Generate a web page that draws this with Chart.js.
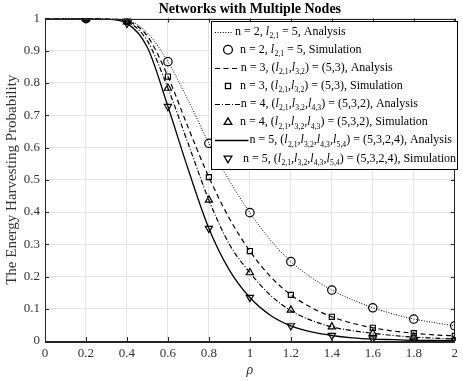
<!DOCTYPE html>
<html>
<head>
<meta charset="utf-8">
<script src="https://cdn.jsdelivr.net/npm/chart.js@4.4.1/dist/chart.umd.min.js"></script>
<style>
html,body{margin:0;padding:0;background:#fff;}
#wrap{width:463px;height:381px;position:relative;}
</style>
</head>
<body>
<div id="wrap"><canvas id="c" width="463" height="381"></canvas></div>
<script>
// ---- data ----
const titleText = "Networks with Multiple Nodes";
const xLabel = "ρ";
const yLabel = "The Energy Harvesting Probability";

const rhoAna = [0,0.1,0.2,0.3,0.4,0.5,0.6,0.7,0.8,0.9,1.0,1.1,1.2,1.3,1.4,1.5,1.6,1.7,1.8,1.9,2.0];
const anaN2 = [1,1,1,0.999,0.995,0.955,0.866,0.745,0.613,0.497,0.398,0.313,0.246,0.197,0.158,0.128,0.103,0.084,0.068,0.057,0.047];
const anaN3 = [1,1,1,0.999,0.992,0.945,0.82,0.66,0.508,0.38,0.279,0.2,0.143,0.104,0.075,0.055,0.041,0.031,0.024,0.019,0.016];
const anaN4 = [1,1,1,0.999,0.99,0.93,0.784,0.61,0.437,0.30,0.212,0.142,0.094,0.064,0.044,0.032,0.024,0.017,0.012,0.009,0.006];
const anaN5 = [1,1,1,0.998,0.985,0.91,0.727,0.53,0.349,0.22,0.135,0.08,0.047,0.028,0.017,0.01,0.006,0.004,0.002,0.0015,0.001];

const rhoSim = [0.2,0.4,0.6,0.8,1.0,1.2,1.4,1.6,1.8,2.0];
const simN2 = [1,0.995,0.866,0.613,0.398,0.246,0.158,0.103,0.068,0.047];
const simN3 = [1,0.992,0.82,0.508,0.279,0.143,0.075,0.041,0.024,0.016];
const simN4 = [1,0.99,0.784,0.437,0.212,0.096,0.044,0.024,0.012,0.006];
const simN5 = [1,0.985,0.727,0.349,0.135,0.047,0.017,0.006,0.002,0.001];

const xTicks = [0,0.2,0.4,0.6,0.8,1,1.2,1.4,1.6,1.8,2];
const yTicks = [0,0.1,0.2,0.3,0.4,0.5,0.6,0.7,0.8,0.9,1];

const legendLabels = [
  "n = 2, l_{2,1} = 5, Analysis",
  "n = 2, l_{2,1} = 5, Simulation",
  "n = 3, (l_{2,1},l_{3,2}) = (5,3), Analysis",
  "n = 3, (l_{2,1},l_{3,2}) = (5,3), Simulation",
  "n = 4, (l_{2,1},l_{3,2},l_{4,3}) = (5,3,2), Analysis",
  "n = 4, (l_{2,1},l_{3,2},l_{4,3}) = (5,3,2), Simulation",
  "n = 5, (l_{2,1},l_{3,2},l_{4,3},l_{5,4}) = (5,3,2,4), Analysis",
  "n = 5, (l_{2,1},l_{3,2},l_{4,3},l_{5,4}) = (5,3,2,4), Simulation"
];

// ---- build datasets ----
const pts = (xs, ys) => xs.map((x, i) => ({x: x, y: ys[i]}));
const serif = "'Liberation Serif','Times New Roman',serif";

function ana(label, ys, dash, w) {
  return {label, data: pts(rhoAna, ys), type: 'line', borderColor: '#000', borderWidth: w,
    borderDash: dash, pointRadius: 0, cubicInterpolationMode: 'monotone', fill: false};
}
function sim(label, ys, style, rot) {
  return {label, data: pts(rhoSim, ys), type: 'line', showLine: false, borderColor: '#000',
    backgroundColor: 'rgba(0,0,0,0)', pointStyle: style, pointRotation: rot || 0,
    pointRadius: style === 'rect' ? 3.6 : 4.2, pointBorderWidth: 1.2, pointBorderColor: '#000',
    pointBackgroundColor: 'rgba(0,0,0,0)'};
}

const datasets = [
  ana(legendLabels[0], anaN2, [1, 1.6], 1),
  sim(legendLabels[1], simN2, 'circle'),
  ana(legendLabels[2], anaN3, [5, 3.5], 1.2),
  sim(legendLabels[3], simN3, 'rect'),
  ana(legendLabels[4], anaN4, [5, 2, 1, 2], 1.2),
  sim(legendLabels[5], simN4, 'triangle'),
  ana(legendLabels[6], anaN5, [], 1.3),
  sim(legendLabels[7], simN5, 'triangle', 180)
];

// ---- rich text helper for subscripts ----
function drawRich(ctx, text, x, y, size) {
  const parts = text.split(/(l_\{[^}]*\})/);
  let cx = x;
  ctx.textBaseline = 'middle';
  ctx.textAlign = 'left';
  for (const p of parts) {
    if (!p) continue;
    const m = p.match(/^l_\{([^}]*)\}$/);
    if (m) {
      ctx.font = 'italic ' + size + 'px ' + serif;
      ctx.fillText('l', cx, y);
      cx += ctx.measureText('l').width + 0.3;
      ctx.font = (size * 0.64) + 'px ' + serif;
      ctx.fillText(m[1], cx, y + size * 0.36);
      cx += ctx.measureText(m[1]).width;
    } else {
      ctx.font = size + 'px ' + serif;
      ctx.fillText(p, cx, y);
      cx += ctx.measureText(p).width;
    }
  }
  return cx - x;
}

const rowTextX = [235, 240, 240.7, 240, 240.7, 240, 249.5, 243];
const rowLineEnd = [233, 0, 240, 0, 240, 0, 248.5, 0];

const decor = {
  id: 'decor',
  afterDatasetsDraw(chart) {
    const ctx = chart.ctx, a = chart.chartArea;
    const xs = chart.scales.x, ys = chart.scales.y;
    ctx.save();
    ctx.strokeStyle = '#262626';
    ctx.lineWidth = 1;
    ctx.beginPath();
    const tl = 4;
    xTicks.forEach(v => {
      const px = Math.round(xs.getPixelForValue(v)) + 0.5;
      ctx.moveTo(px, a.bottom); ctx.lineTo(px, a.bottom - tl);
      ctx.moveTo(px, a.top); ctx.lineTo(px, a.top + tl);
    });
    yTicks.forEach(v => {
      const py = Math.round(ys.getPixelForValue(v)) + 0.5;
      ctx.moveTo(a.left, py); ctx.lineTo(a.left + tl, py);
      ctx.moveTo(a.right, py); ctx.lineTo(a.right - tl, py);
    });
    ctx.stroke();
    ctx.strokeRect(Math.round(a.left) + 0.5, Math.round(a.top) + 0.5, Math.round(a.right - a.left) - 1, Math.round(a.bottom - a.top));
    ctx.restore();
  },
  afterDraw(chart) {
    const ctx = chart.ctx, a = chart.chartArea;
    ctx.save();
    // title
    ctx.fillStyle = '#000';
    ctx.font = 'bold 14px ' + serif;
    ctx.textAlign = 'center';
    ctx.textBaseline = 'middle';
    ctx.fillText(titleText, (a.left + a.right) / 2, 9);
    // legend box
    const bx = 211.5, by = 21.5, bw = 246, bh = 148;
    ctx.fillStyle = '#fff';
    ctx.fillRect(bx, by, bw, bh);
    ctx.strokeStyle = '#000';
    ctx.lineWidth = 1;
    ctx.strokeRect(bx, by, bw, bh);
    const y0 = 31.7, dy = 18.1;
    chart.data.datasets.forEach((ds, i) => {
      const ry = y0 + i * dy;
      ctx.save();
      if (ds.pointRadius === 0) {
        ctx.strokeStyle = '#000';
        ctx.lineWidth = ds.borderWidth;
        ctx.setLineDash(ds.borderDash || []);
        ctx.beginPath();
        ctx.moveTo(215, Math.round(ry) + 0.5);
        ctx.lineTo(rowLineEnd[i], Math.round(ry) + 0.5);
        ctx.stroke();
      } else {
        ctx.strokeStyle = '#000';
        ctx.fillStyle = 'rgba(0,0,0,0)';
        ctx.lineWidth = 1.3;
        Chart.helpers.drawPoint(ctx, {pointStyle: ds.pointStyle, rotation: ds.pointRotation || 0,
          radius: ds.pointStyle === 'rect' ? 3.6 : 4.4, borderWidth: 1.3}, 228, ry);
      }
      ctx.restore();
      ctx.fillStyle = '#000';
      drawRich(ctx, ds.label, rowTextX[i], ry, 12);
    });
    ctx.restore();
  }
};

new Chart(document.getElementById('c'), {
  type: 'line',
  data: {datasets},
  options: {
    responsive: false,
    animation: false,
    devicePixelRatio: 1,
    layout: {padding: {top: 18.5, right: 2, left: 0, bottom: 0}},
    plugins: {legend: {display: false}, title: {display: false}, tooltip: {enabled: false}},
    scales: {
      x: {
        type: 'linear', min: 0, max: 2,
        afterFit: s => { s.height = 40; },
        afterBuildTicks: s => { s.ticks = xTicks.map(v => ({value: v})); },
        ticks: {callback: v => String(+v.toFixed(1)), color: '#333', font: {family: serif, size: 13}, padding: 5, maxRotation: 0, autoSkip: false},
        grid: {color: '#e3e3e3', drawTicks: false, lineWidth: 1},
        border: {color: '#262626', width: 1},
        title: {display: true, text: xLabel, font: {family: serif, size: 14, style: 'italic'}, color: '#333', padding: {top: 0, bottom: 2}}
      },
      y: {
        type: 'linear', min: 0, max: 1,
        afterFit: s => { s.width = 45; },
        afterBuildTicks: s => { s.ticks = yTicks.map(v => ({value: v})); },
        ticks: {callback: v => String(+v.toFixed(1)), color: '#333', font: {family: serif, size: 13}, padding: 5, autoSkip: false},
        grid: {color: '#e3e3e3', drawTicks: false, lineWidth: 1},
        border: {color: '#262626', width: 1},
        title: {display: true, text: yLabel, font: {family: serif, size: 15}, color: '#333', padding: {top: 3, bottom: 0}}
      }
    }
  },
  plugins: [decor]
});
</script>
</body>
</html>
